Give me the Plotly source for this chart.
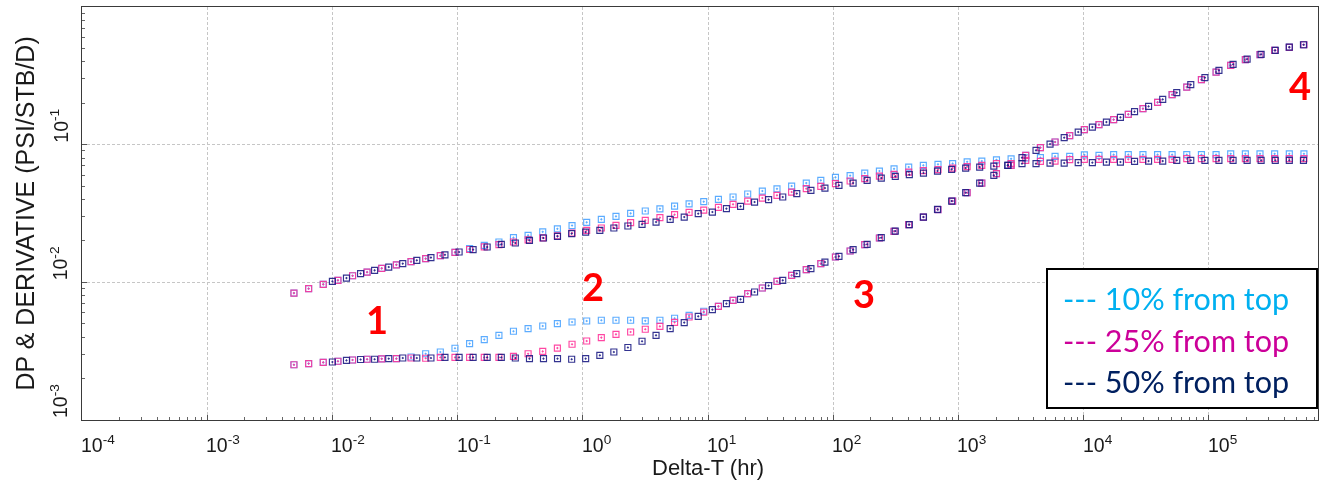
import plotly.graph_objects as go

# ---------------- data ----------------
# time grid shared by the 10% and 25% series (hr)
time_a = [0.00493, 0.00646, 0.00845, 0.01107, 0.01449, 0.01893, 0.02477, 0.03243, 0.04246, 0.05559,
          0.07278, 0.09528, 0.1247, 0.1633, 0.2138, 0.2793, 0.3656, 0.4786, 0.6266, 0.8204,
          1.074, 1.406, 1.841, 2.410, 3.155, 4.130, 5.408, 7.063, 9.247, 12.11,
          15.85, 20.75, 27.16, 35.56, 46.56, 60.95, 79.62, 104.2, 136.5, 178.6,
          233.9, 306.2, 400.9, 524.8, 687.1, 899.5, 1175, 1538, 2014, 2636,
          3451, 4519, 5916, 7745, 10140, 13270, 17380, 22750, 29790, 38990,
          50930, 66680, 87300, 114300, 149600, 195900, 256400, 335700, 439500, 575400]
# time grid of the 50% series (hr)
time_b = [0.0100, 0.01295, 0.01679, 0.02173, 0.02818, 0.03648, 0.04721, 0.06124, 0.07925, 0.1028,
          0.1330, 0.1722, 0.2234, 0.2891, 0.3750, 0.4853, 0.6281, 0.8147, 1.054, 1.368,
          1.770, 2.291, 2.972, 3.846, 4.989, 6.457, 8.356, 10.84, 14.03, 18.20,
          23.55, 30.48, 39.54, 51.17, 66.37, 85.90, 111.2, 144.2, 186.6, 242.1,
          313.3, 405.5, 526.0, 680.8, 883.0, 1143, 1479, 1919, 2483, 3221,
          4169, 5395, 6998, 9057, 11750, 15210, 19680, 25530, 33040, 42850,
          55460, 71780, 93110, 120500, 156300, 202300, 261800, 339600, 439500, 570200]

# early-time upper branch (PSI/STB/D)
upper_10 = [0.00835, 0.00900, 0.00967, 0.01034, 0.01117, 0.01186, 0.01264, 0.01340, 0.01413, 0.01486,
            0.01563, 0.01652, 0.01757, 0.01857, 0.01962, 0.02112, 0.02194, 0.02326, 0.02447, 0.02585,
            0.02728, 0.02867, 0.03015, 0.03170, 0.03295, 0.03418, 0.03577, 0.03715, 0.03855, 0.04007,
            0.04165, 0.04381, 0.04603, 0.04775, 0.05005, 0.05261, 0.05505, 0.05788, 0.05956, 0.06220,
            0.06431, 0.06672, 0.06876, 0.07074, 0.07194, 0.07290, 0.07501, 0.07601, 0.07755, 0.07887,
            0.08018, 0.08045, 0.08222, 0.08222, 0.08431, 0.08360, 0.08460, 0.08460, 0.08460, 0.08460,
            0.08460, 0.08460, 0.08460, 0.08460, 0.08574, 0.08574, 0.08574, 0.08574, 0.08574, 0.08574]
upper_25 = [0.00835, 0.00900, 0.00967, 0.01034, 0.01117, 0.01186, 0.01264, 0.01340, 0.01413, 0.01486,
            0.01563, 0.01652, 0.01731, 0.01811, 0.01878, 0.01962, 0.02035, 0.02105, 0.02176, 0.02280,
            0.02386, 0.02480, 0.02594, 0.02714, 0.02820, 0.02951, 0.03102, 0.03223, 0.03350, 0.03505,
            0.03685, 0.03894, 0.04095, 0.04284, 0.04527, 0.04792, 0.04980, 0.05210, 0.05442, 0.05665,
            0.05906, 0.06086, 0.06324, 0.06474, 0.06583, 0.06763, 0.06922, 0.07074, 0.07278, 0.07278,
            0.07691, 0.07563, 0.07601, 0.07781, 0.07820, 0.07820, 0.07820, 0.07820, 0.07820, 0.07820,
            0.07820, 0.07912, 0.07912, 0.07912, 0.07912, 0.07912, 0.07912, 0.07912, 0.07912, 0.07912]
upper_50 = [0.01017, 0.01074, 0.01157, 0.01222, 0.01291, 0.01367, 0.01444, 0.01512, 0.01584, 0.01660,
            0.01728, 0.01805, 0.01888, 0.01930, 0.02018, 0.02098, 0.02158, 0.02257, 0.02318, 0.02386,
            0.02480, 0.02564, 0.02638, 0.02741, 0.02867, 0.02980, 0.03155, 0.03240, 0.03429, 0.03564,
            0.03830, 0.03987, 0.04165, 0.04411, 0.04658, 0.04840, 0.05064, 0.05261, 0.05505, 0.05721,
            0.05886, 0.06055, 0.06220, 0.06431, 0.06616, 0.06763, 0.06876, 0.06992, 0.07074, 0.07278,
            0.07278, 0.07352, 0.07352, 0.07402, 0.07402, 0.07476, 0.07476, 0.07563, 0.07601, 0.07601,
            0.07691, 0.07691, 0.07691, 0.07691, 0.07691, 0.07691, 0.07691, 0.07691, 0.07691, 0.07691]

# early-time lower branch (PSI/STB/D)
lower_10 = [0.00252, 0.00257, 0.00262, 0.00267, 0.00273, 0.00276, 0.00278, 0.00279, 0.00287, 0.00303,
            0.00312, 0.00332, 0.00359, 0.00384, 0.00412, 0.00441, 0.00461, 0.00482, 0.00501, 0.00515,
            0.00524, 0.00530, 0.00530, 0.00530, 0.00525, 0.00530, 0.00548, 0.00576, 0.00616, 0.00669,
            0.00740, 0.00828, 0.00909, 0.01017, 0.01124, 0.01237, 0.01367, 0.01527, 0.01688, 0.01878,
            0.02098, 0.02347, 0.02624, 0.02980, 0.03373, 0.03894, 0.04482, 0.05261, 0.06158, 0.07074,
            0.08360, 0.09511, 0.1045, 0.1163, 0.1285, 0.1397, 0.1519, 0.1660, 0.1826, 0.2029,
            0.2308, 0.2620, 0.2965, 0.3367, 0.3767, 0.4143, 0.4505, 0.4840, 0.5089, 0.5323]
lower_25 = [0.00252, 0.00257, 0.00262, 0.00267, 0.00273, 0.00276, 0.00278, 0.00279, 0.00282, 0.00281,
            0.00285, 0.00285, 0.00285, 0.00285, 0.00285, 0.00290, 0.00303, 0.00315, 0.00333, 0.00355,
            0.00375, 0.00397, 0.00419, 0.00436, 0.00456, 0.00479, 0.00512, 0.00560, 0.00606, 0.00669,
            0.00740, 0.00828, 0.00909, 0.01017, 0.01124, 0.01237, 0.01367, 0.01527, 0.01688, 0.01878,
            0.02098, 0.02347, 0.02624, 0.02980, 0.03373, 0.03894, 0.04482, 0.05261, 0.06158, 0.07074,
            0.08360, 0.09511, 0.1045, 0.1163, 0.1285, 0.1397, 0.1519, 0.1660, 0.1826, 0.2029,
            0.2308, 0.2620, 0.2965, 0.3367, 0.3767, 0.4143, 0.4505, 0.4840, 0.5089, 0.5323]
lower_50 = [0.00264, 0.00271, 0.00275, 0.00276, 0.00279, 0.00282, 0.00282, 0.00282, 0.00285, 0.00285,
            0.00285, 0.00285, 0.00285, 0.00282, 0.00279, 0.00279, 0.00279, 0.00276, 0.00279, 0.00295,
            0.00312, 0.00336, 0.00373, 0.00412, 0.00461, 0.00510, 0.00566, 0.00633, 0.00700, 0.00752,
            0.00850, 0.00946, 0.01034, 0.01157, 0.01258, 0.01404, 0.01545, 0.01728, 0.01888, 0.02112,
            0.02358, 0.02624, 0.02980, 0.03390, 0.03894, 0.04482, 0.05261, 0.05987, 0.07074, 0.08045,
            0.09091, 0.1010, 0.1124, 0.1235, 0.1342, 0.1459, 0.1579, 0.1737, 0.1897, 0.2133,
            0.2386, 0.2728, 0.3066, 0.3465, 0.3831, 0.4185, 0.4528, 0.4840, 0.5115, 0.5323]

series_names = ["10% from top", "25% from top", "50% from top"]
marker_colors = ["#4aa3ff", "#ff3399", "#1c1c84"]
legend_text_colors = ["#00b0f0", "#cc0099", "#002060"]

x_tick_exponents = [-4, -3, -2, -1, 0, 1, 2, 3, 4, 5]
x_tick_labels = ["10<sup>-4</sup>", "10<sup>-3</sup>", "10<sup>-2</sup>", "10<sup>-1</sup>", "10<sup>0</sup>",
                 "10<sup>1</sup>", "10<sup>2</sup>", "10<sup>3</sup>", "10<sup>4</sup>", "10<sup>5</sup>"]
y_tick_exponents = [-3, -2, -1]
y_tick_labels = ["10<sup>-3</sup>", "10<sup>-2</sup>", "10<sup>-1</sup>"]

region_labels = ["1", "2", "3", "4"]
region_x_log = [-1.640, 0.078, 2.242, 5.728]
region_y_log = [-2.263, -2.027, -2.081, -0.564]

# ---------------- figure ----------------
W, H = 1320, 490
ML, MR, MT, MB = 82, 2, 7, 70
PW, PH = W - ML - MR, H - MT - MB


def px_to_paper_x(px):
    return (px - ML) / PW


def px_to_paper_y(py):
    return (H - MB - py) / PH


fig = go.Figure()

times = [time_a, time_a, time_b]
uppers = [upper_10, upper_25, upper_50]
lowers = [lower_10, lower_25, lower_50]
for name, col, t, up, lo in zip(series_names, marker_colors, times, uppers, lowers):
    for vals in (up, lo):
        fig.add_trace(go.Scatter(
            x=t, y=vals, mode="markers", name=name, showlegend=False,
            marker=dict(symbol="square-open-dot", size=6, color=col,
                        line=dict(width=1.15, color=col)),
            opacity=0.9,
        ))

axis_common = dict(
    type="log", showgrid=True, gridcolor="#c6c6c6", gridwidth=1, griddash="3px,2px",
    dtick=1, showticklabels=False, ticks="inside", ticklen=5, tickcolor="#555555",
    showline=True, linecolor="#3a3a3a", linewidth=1, mirror=True, zeroline=False,
    minor=dict(ticks="inside", ticklen=3, tickcolor="#666666", dtick="D1", showgrid=False),
)
fig.update_xaxes(range=[-4, -4 + PW / 125.2], **axis_common)
fig.update_yaxes(range=[-3, 0], **axis_common)

ann = []
tick_font = dict(family="Liberation Sans, Arial", size=19.5, color="#1a1a1a")
for e, lab in zip(x_tick_exponents, x_tick_labels):
    ann.append(dict(x=e, y=px_to_paper_y(444), xref="x", yref="paper", text=lab,
                    showarrow=False, xanchor="left", yanchor="middle", xshift=-3, font=tick_font))
for e, lab in zip(y_tick_exponents, y_tick_labels):
    ann.append(dict(x=px_to_paper_x(59), y=e, xref="paper", yref="y", text=lab, textangle=-90,
                    showarrow=False, xanchor="center", yanchor="bottom", font=tick_font))

ann.append(dict(x=px_to_paper_x(707.5), y=px_to_paper_y(467), xref="paper", yref="paper",
                text="Delta-T (hr)", showarrow=False, xanchor="center", yanchor="middle",
                font=dict(family="Liberation Sans, Arial", size=22, color="#1a1a1a")))
ann.append(dict(x=px_to_paper_x(24), y=0.5, xref="paper", yref="paper",
                text="DP &amp; DERIVATIVE (PSI/STB/D)", textangle=-90, showarrow=False,
                xanchor="center", yanchor="middle",
                font=dict(family="Liberation Sans, Arial", size=25, color="#1a1a1a")))

for lab, xl, yl in zip(region_labels, region_x_log, region_y_log):
    ann.append(dict(x=xl, y=yl, xref="x", yref="y", text="<b>" + lab + "</b>", showarrow=False,
                    xanchor="center", yanchor="middle",
                    font=dict(family="Lato, Liberation Sans", size=38, color="#ff0000")))

legend_rows_y = [298, 340, 381]
for name, col, ry in zip(series_names, legend_text_colors, legend_rows_y):
    ann.append(dict(x=px_to_paper_x(1061), y=px_to_paper_y(ry), xref="paper", yref="paper",
                    text="--- " + name, showarrow=False, xanchor="left", yanchor="middle",
                    font=dict(family="Lato, Liberation Sans", size=30.5, color=col)))

fig.update_layout(
    width=W, height=H,
    margin=dict(l=ML, r=MR, t=MT, b=MB),
    paper_bgcolor="white", plot_bgcolor="white",
    showlegend=False,
    annotations=ann,
    shapes=[dict(type="rect", xref="paper", yref="paper",
                 x0=px_to_paper_x(1047), x1=px_to_paper_x(1317),
                 y0=px_to_paper_y(408), y1=px_to_paper_y(269),
                 line=dict(color="black", width=2), fillcolor="white", layer="above")],
)

fig.write_html("out.html")
